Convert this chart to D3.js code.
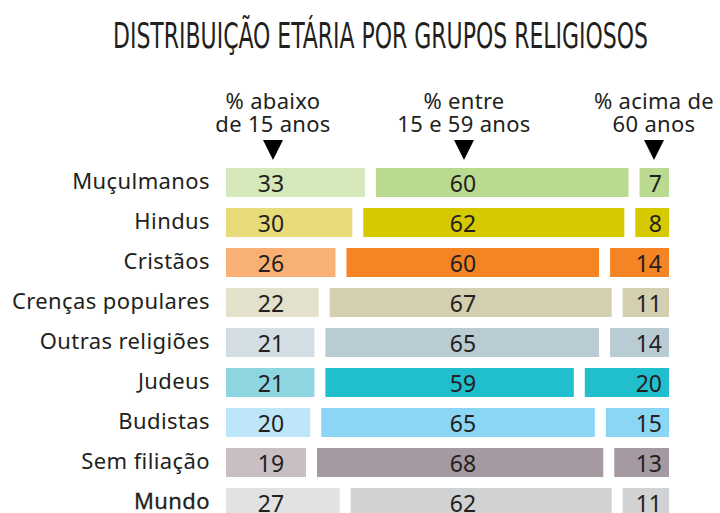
<!DOCTYPE html>
<html>
<head>
<meta charset="utf-8">
<script src="https://cdn.jsdelivr.net/npm/d3@7"></script>
<style>
  body { margin: 0; background: #fff; }
  svg text { font-family: "Noto Sans", Lato, sans-serif; fill: #231f20; }
</style>
</head>
<body>
<div id="root"></div>
<script>
// data
const groups = ["Muçulmanos", "Hindus", "Cristãos", "Crenças populares", "Outras religiões", "Judeus", "Budistas", "Sem filiação", "Mundo"]
const under15 = [33, 30, 26, 22, 21, 21, 20, 19, 27]
const from15to59 = [60, 62, 60, 67, 65, 59, 65, 68, 62]
const over60 = [7, 8, 14, 11, 14, 20, 15, 13, 11]
const headers = [["% abaixo", "de 15 anos"], ["% entre", "15 e 59 anos"], ["% acima de", "60 anos"]]
const lightColors = ["#d4e8b9", "#e8db7a", "#f9b074", "#e3e0cc", "#d3dde4", "#8dd5e0", "#bde6f8", "#c8bfc5", "#e1e2e4"]
const darkColors = ["#b9da8f", "#d6c900", "#f48424", "#d3cfb0", "#b9cbd3", "#21bece", "#8bd6f5", "#a59aa1", "#d1d2d4"]

function drawChart() {
    const w = 720, h = 513
    const left = 226, gap = 11
    const colX = [271, 463, 662]   // number anchors per column
    const headX = [273, 464, 654]

    const x = d3.scaleLinear().domain([0, 100]).range([0, 421])
    const y = d3.scaleBand().domain(groups).range([168, 517]).paddingInner(0.275)

    const svg = d3.select("#root").append("svg")
        .attr("width", w)
        .attr("height", h)

    // title
    svg.append("text")
        .attr("x", 113)
        .attr("y", 48)
        .attr("textLength", 535)
        .attr("lengthAdjust", "spacingAndGlyphs")
        .style("font-family", "'Liberation Sans Narrow', 'DejaVu Sans Condensed', sans-serif")
        .style("font-size", "36px")
        .text("DISTRIBUIÇÃO ETÁRIA POR GRUPOS RELIGIOSOS")

    // column headers
    headers.forEach((lines, i) => {
        const t = svg.append("text")
            .attr("text-anchor", "middle")
            .style("font-size", "22px")
            .style("letter-spacing", "0.3px")
        lines.forEach((l, j) => {
            t.append("tspan").attr("x", headX[i]).attr("y", 109 + j * 23).text(l)
        })
        svg.append("path")
            .attr("d", d3.line()([[headX[i] - 10, 140], [headX[i] + 10, 140], [headX[i], 160]]) + "Z")
            .attr("fill", "#000")
    })

    const rows = groups.map((g, i) => ({
        name: g, i: i,
        vals: [under15[i], from15to59[i], over60[i]]
    }))

    const row = svg.selectAll("g.row").data(rows).enter().append("g")
        .attr("class", "row")
        .attr("transform", d => "translate(0," + y(d.name) + ")")

    row.append("text")
        .attr("x", 210)
        .attr("y", 21)
        .attr("text-anchor", "end")
        .style("font-size", "22px")
        .style("letter-spacing", "0.4px")
        .style("stroke", d => d.name == "Mundo" ? "#231f20" : "none")
        .style("stroke-width", 0.3)
        .text(d => d.name)

    row.each(function (d) {
        const g = d3.select(this)
        let cum = 0
        d.vals.forEach((v, k) => {
            g.append("rect")
                .attr("x", left + x(cum) + k * gap)
                .attr("y", 0)
                .attr("width", x(v))
                .attr("height", y.bandwidth())
                .attr("fill", k == 0 ? lightColors[d.i] : darkColors[d.i])
            cum += v
            g.append("text")
                .attr("x", colX[k])
                .attr("y", 24)
                .attr("text-anchor", k == 2 ? "end" : "middle")
                .style("font-size", "23px")
                .text(v)
        })
    })
}

drawChart()
</script>
</body>
</html>
